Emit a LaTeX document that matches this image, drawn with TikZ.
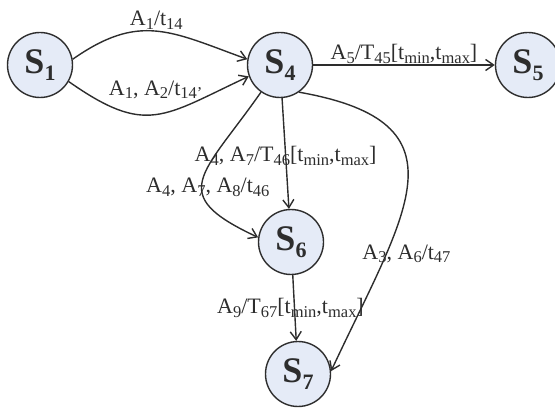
\documentclass[tikz,border=0pt]{standalone}
\usepackage{fontspec}
\setmainfont{Liberation Serif}
\usetikzlibrary{arrows.meta}
\definecolor{stfill}{RGB}{229,235,247}
\definecolor{lncol}{RGB}{45,45,45}
\newcommand{\lsub}[1]{\raisebox{-0.35ex}{\fontsize{16.5}{17}\selectfont #1}}
\newcommand{\ssub}[1]{\raisebox{-0.4ex}{\fontsize{22}{22}\selectfont #1}}
\begin{document}
\begin{tikzpicture}[x=1pt,y=-1pt, color=lncol, line width=1.4pt,
  >={Straight Barb[length=8pt,width=11pt]},
  stnode/.style={circle, draw, line width=1.4pt, fill=stfill, minimum size=65pt, inner sep=0pt, font=\fontsize{36}{36}\selectfont\bfseries},
  lbl/.style={font=\fontsize{22}{24}\selectfont, inner sep=1pt}]
\useasboundingbox (0,0) rectangle (555,409);
\node[stnode] (s1) at (40,65) {S\ssub{1}};
\node[stnode] (s4) at (280,65) {S\ssub{4}};
\node[stnode] (s5) at (528,65) {S\ssub{5}};
\node[stnode] (s6) at (291,242) {S\ssub{6}};
\node[stnode] (s7) at (298,374) {S\ssub{7}};
\draw[->] (s1.10) to[out=35,in=160,looseness=1.2] node[lbl,above] (l14) {A\lsub{1}/t\lsub{14}} (s4.170);
\draw[->] (s1.-30) to[out=-35,in=205,looseness=1.35] node[lbl,above=14pt] (l14b) {A\lsub{1}, A\lsub{2}/t\lsub{14'}} (s4.200);
\draw[->] (s4) -- node[lbl,above] (l45) {A\lsub{5}/T\lsub{45}[t\lsub{min},t\lsub{max}]} (s5);
\draw[->] (s4) -- node[lbl,pos=0.52] (l46) {A\lsub{4}, A\lsub{7}/T\lsub{46}[t\lsub{min},t\lsub{max}]} (s6);
\draw[->] (s4.235) to[out=235,in=155,looseness=1.8] node[lbl,pos=0.56,xshift=6pt] (l46b) {A\lsub{4}, A\lsub{7}, A\lsub{8}/t\lsub{46}} (s6.172);
\draw[->] (s4.-55) to[out=-10,in=65,looseness=1.6] node[lbl,pos=0.72,xshift=20pt] (l47) {A\lsub{3}, A\lsub{6}/t\lsub{47}} (s7.5);
\draw[->] (s6) -- node[lbl,xshift=-4pt] (l67) {A\lsub{9}/T\lsub{67}[t\lsub{min},t\lsub{max}]} (s7);
\end{tikzpicture}
\end{document}
